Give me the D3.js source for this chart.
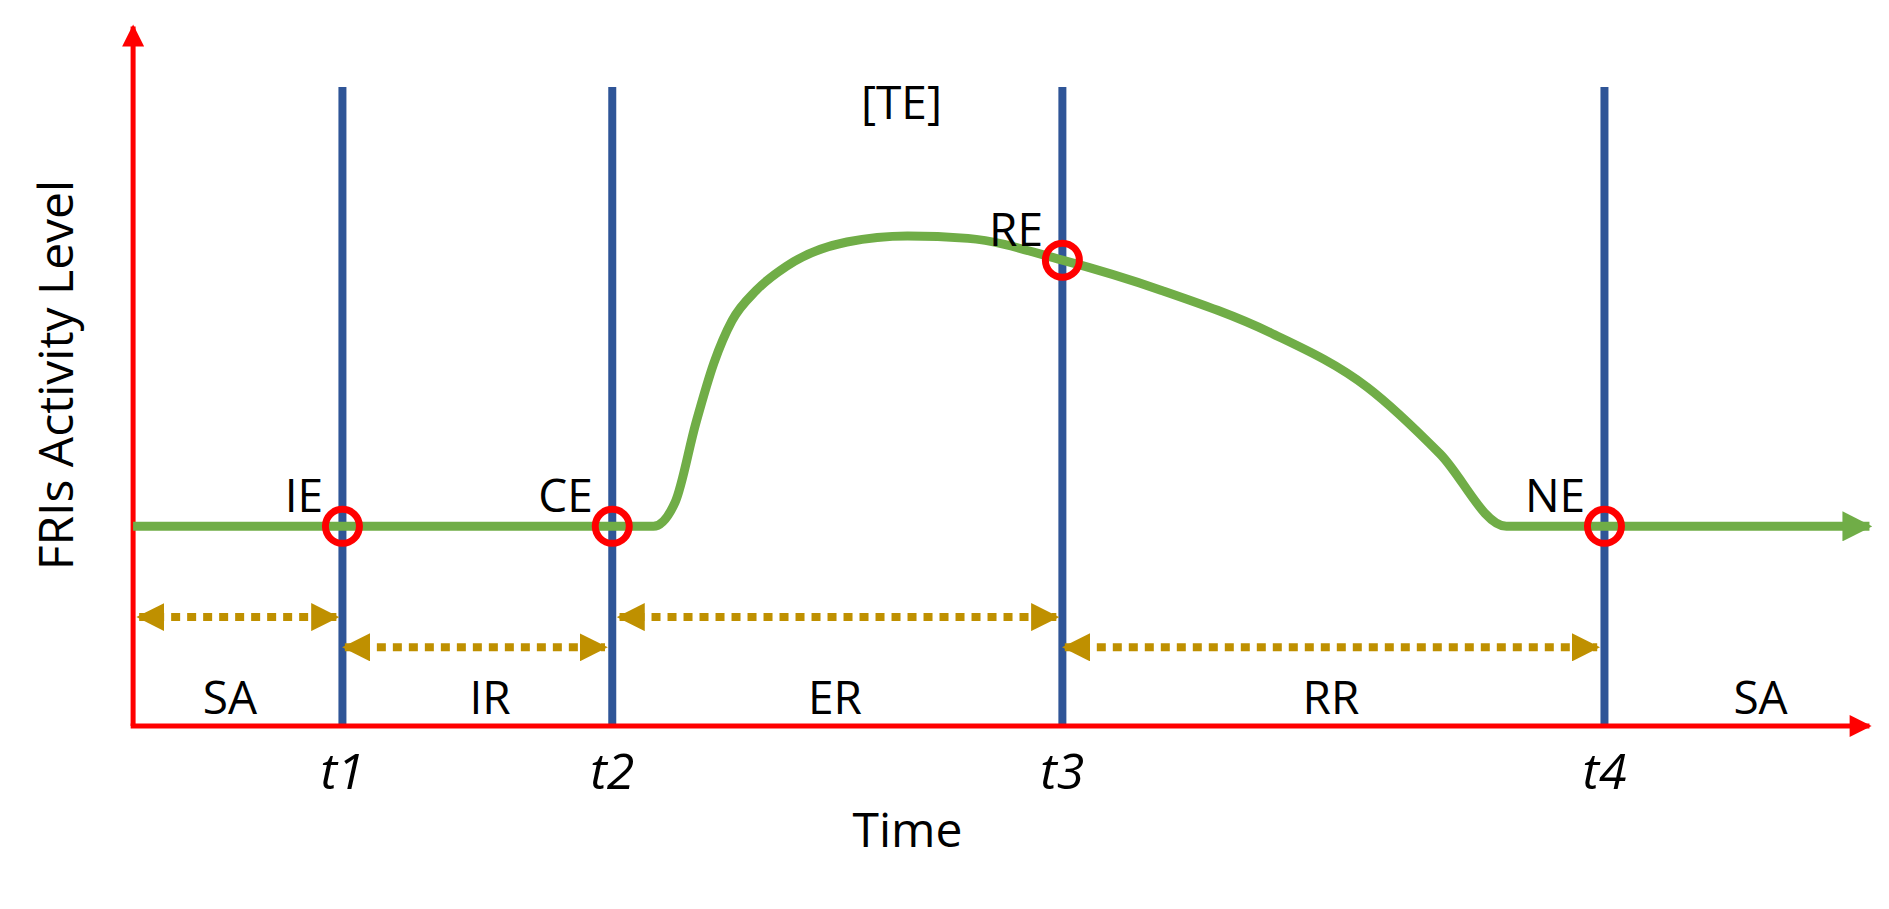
<!DOCTYPE html>
<html><head><meta charset="utf-8">
<script src="https://cdn.jsdelivr.net/npm/d3@7"></script>
<style>body{margin:0;background:#fff}text{font-family:"Open Sans","Noto Sans",sans-serif}</style>
</head><body><svg id="c" width="1889" height="909"></svg>
<script>
// data in diagram units (time on x, activity level on y)
const timeTicks = [{t:283,label:"t1"},{t:506,label:"t2"},{t:878,label:"t3"},{t:1326,label:"t4"}];
const curveTime  = [110,540,558,575,590,605,625,650,700,750,800,878,960,1050,1130,1190,1245,1545];
const curveLevel = [165,165,185,250,300,335,360,380,400,405,403,385,360,325,280,225,165,165];
const events = [{t:283,v:165,label:"IE"},{t:506,v:165,label:"CE"},{t:878,v:385,label:"RE"},{t:1326,v:165,label:"NE"}];
const ranges = [{a:115,b:278,row:0},{a:285,b:500,row:1},{a:512,b:873,row:0},{a:880,b:1320,row:1}];
const phases = [{t:190,label:"SA"},{t:405,label:"IR"},{t:690,label:"ER"},{t:1100,label:"RR"},{t:1455,label:"SA"}];

const k=1.21;
const x=d3.scaleLinear().domain([0,1560]).range([0,1560*k]);
const y=d3.scaleLinear().domain([0,600]).range([600*k,0]);
const svg=d3.select("#c");
const defs=svg.append("defs");
function marker(id,col,w,h){defs.append("marker").attr("id",id).attr("viewBox","0 0 10 10").attr("refX",9).attr("refY",5)
 .attr("markerWidth",w).attr("markerHeight",h).attr("markerUnits","userSpaceOnUse").attr("orient","auto-start-reverse")
 .append("path").attr("d","M0,0L10,5L0,10Z").attr("fill",col);}
marker("ra","#ff0000",26,22);marker("ga","#70ad47",30,30);marker("ya","#bf9000",28,28);

svg.selectAll(".bl").data(timeTicks).join("line").attr("x1",d=>x(d.t)).attr("x2",d=>x(d.t))
 .attr("y1",y(528)).attr("y2",y(0)).attr("stroke","#2f5597").attr("stroke-width",8);
svg.append("line").attr("x1",x(110)).attr("x2",x(110)).attr("y1",y(0)).attr("y2",y(578)).attr("stroke","red").attr("stroke-width",5).attr("marker-end","url(#ra)");
svg.append("line").attr("x1",x(108)).attr("x2",x(1545)).attr("y1",y(0)).attr("y2",y(0)).attr("stroke","red").attr("stroke-width",5).attr("marker-end","url(#ra)");
const pts=curveTime.map((t,i)=>[t,curveLevel[i]]);
svg.append("path").attr("d",d3.line().x(d=>x(d[0])).y(d=>y(d[1])).curve(d3.curveMonotoneX)(pts))
 .attr("fill","none").attr("stroke","#70ad47").attr("stroke-width",9).attr("marker-end","url(#ga)");
svg.selectAll(".ev").data(events).join("circle").attr("cx",d=>x(d.t)).attr("cy",d=>y(d.v)).attr("r",17)
 .attr("fill","none").attr("stroke","red").attr("stroke-width",7);
svg.selectAll(".evl").data(events).join("text").attr("x",d=>x(d.t-16)).attr("y",d=>y(d.v+12)).attr("text-anchor","end")
 .attr("font-size",46).text(d=>d.label);
svg.append("text").attr("x",x(745)).attr("y",y(502)).attr("text-anchor","middle").attr("font-size",46).text("[TE]");
svg.selectAll(".rg").data(ranges).join("line").attr("x1",d=>x(d.a)).attr("x2",d=>x(d.b))
 .attr("y1",d=>y(d.row?65:90)).attr("y2",d=>y(d.row?65:90)).attr("stroke","#bf9000").attr("stroke-width",8)
 .attr("stroke-dasharray","9 7").attr("marker-start","url(#ya)").attr("marker-end","url(#ya)");
svg.selectAll(".ph").data(phases).join("text").attr("x",d=>x(d.t)).attr("y",y(10)).attr("text-anchor","middle")
 .attr("font-size",46).text(d=>d.label);
svg.selectAll(".tl").data(timeTicks).join("text").attr("x",d=>x(d.t)).attr("y",y(-52)).attr("text-anchor","middle")
 .attr("font-size",50).attr("font-style","italic").text(d=>d.label);
svg.append("text").attr("x",x(750)).attr("y",y(-100)).attr("text-anchor","middle").attr("font-size",48).text("Time");
svg.append("text").attr("transform",`translate(${x(60)},${y(290)}) rotate(-90)`).attr("text-anchor","middle").attr("font-size",48).text("FRIs Activity Level");
</script></body></html>
